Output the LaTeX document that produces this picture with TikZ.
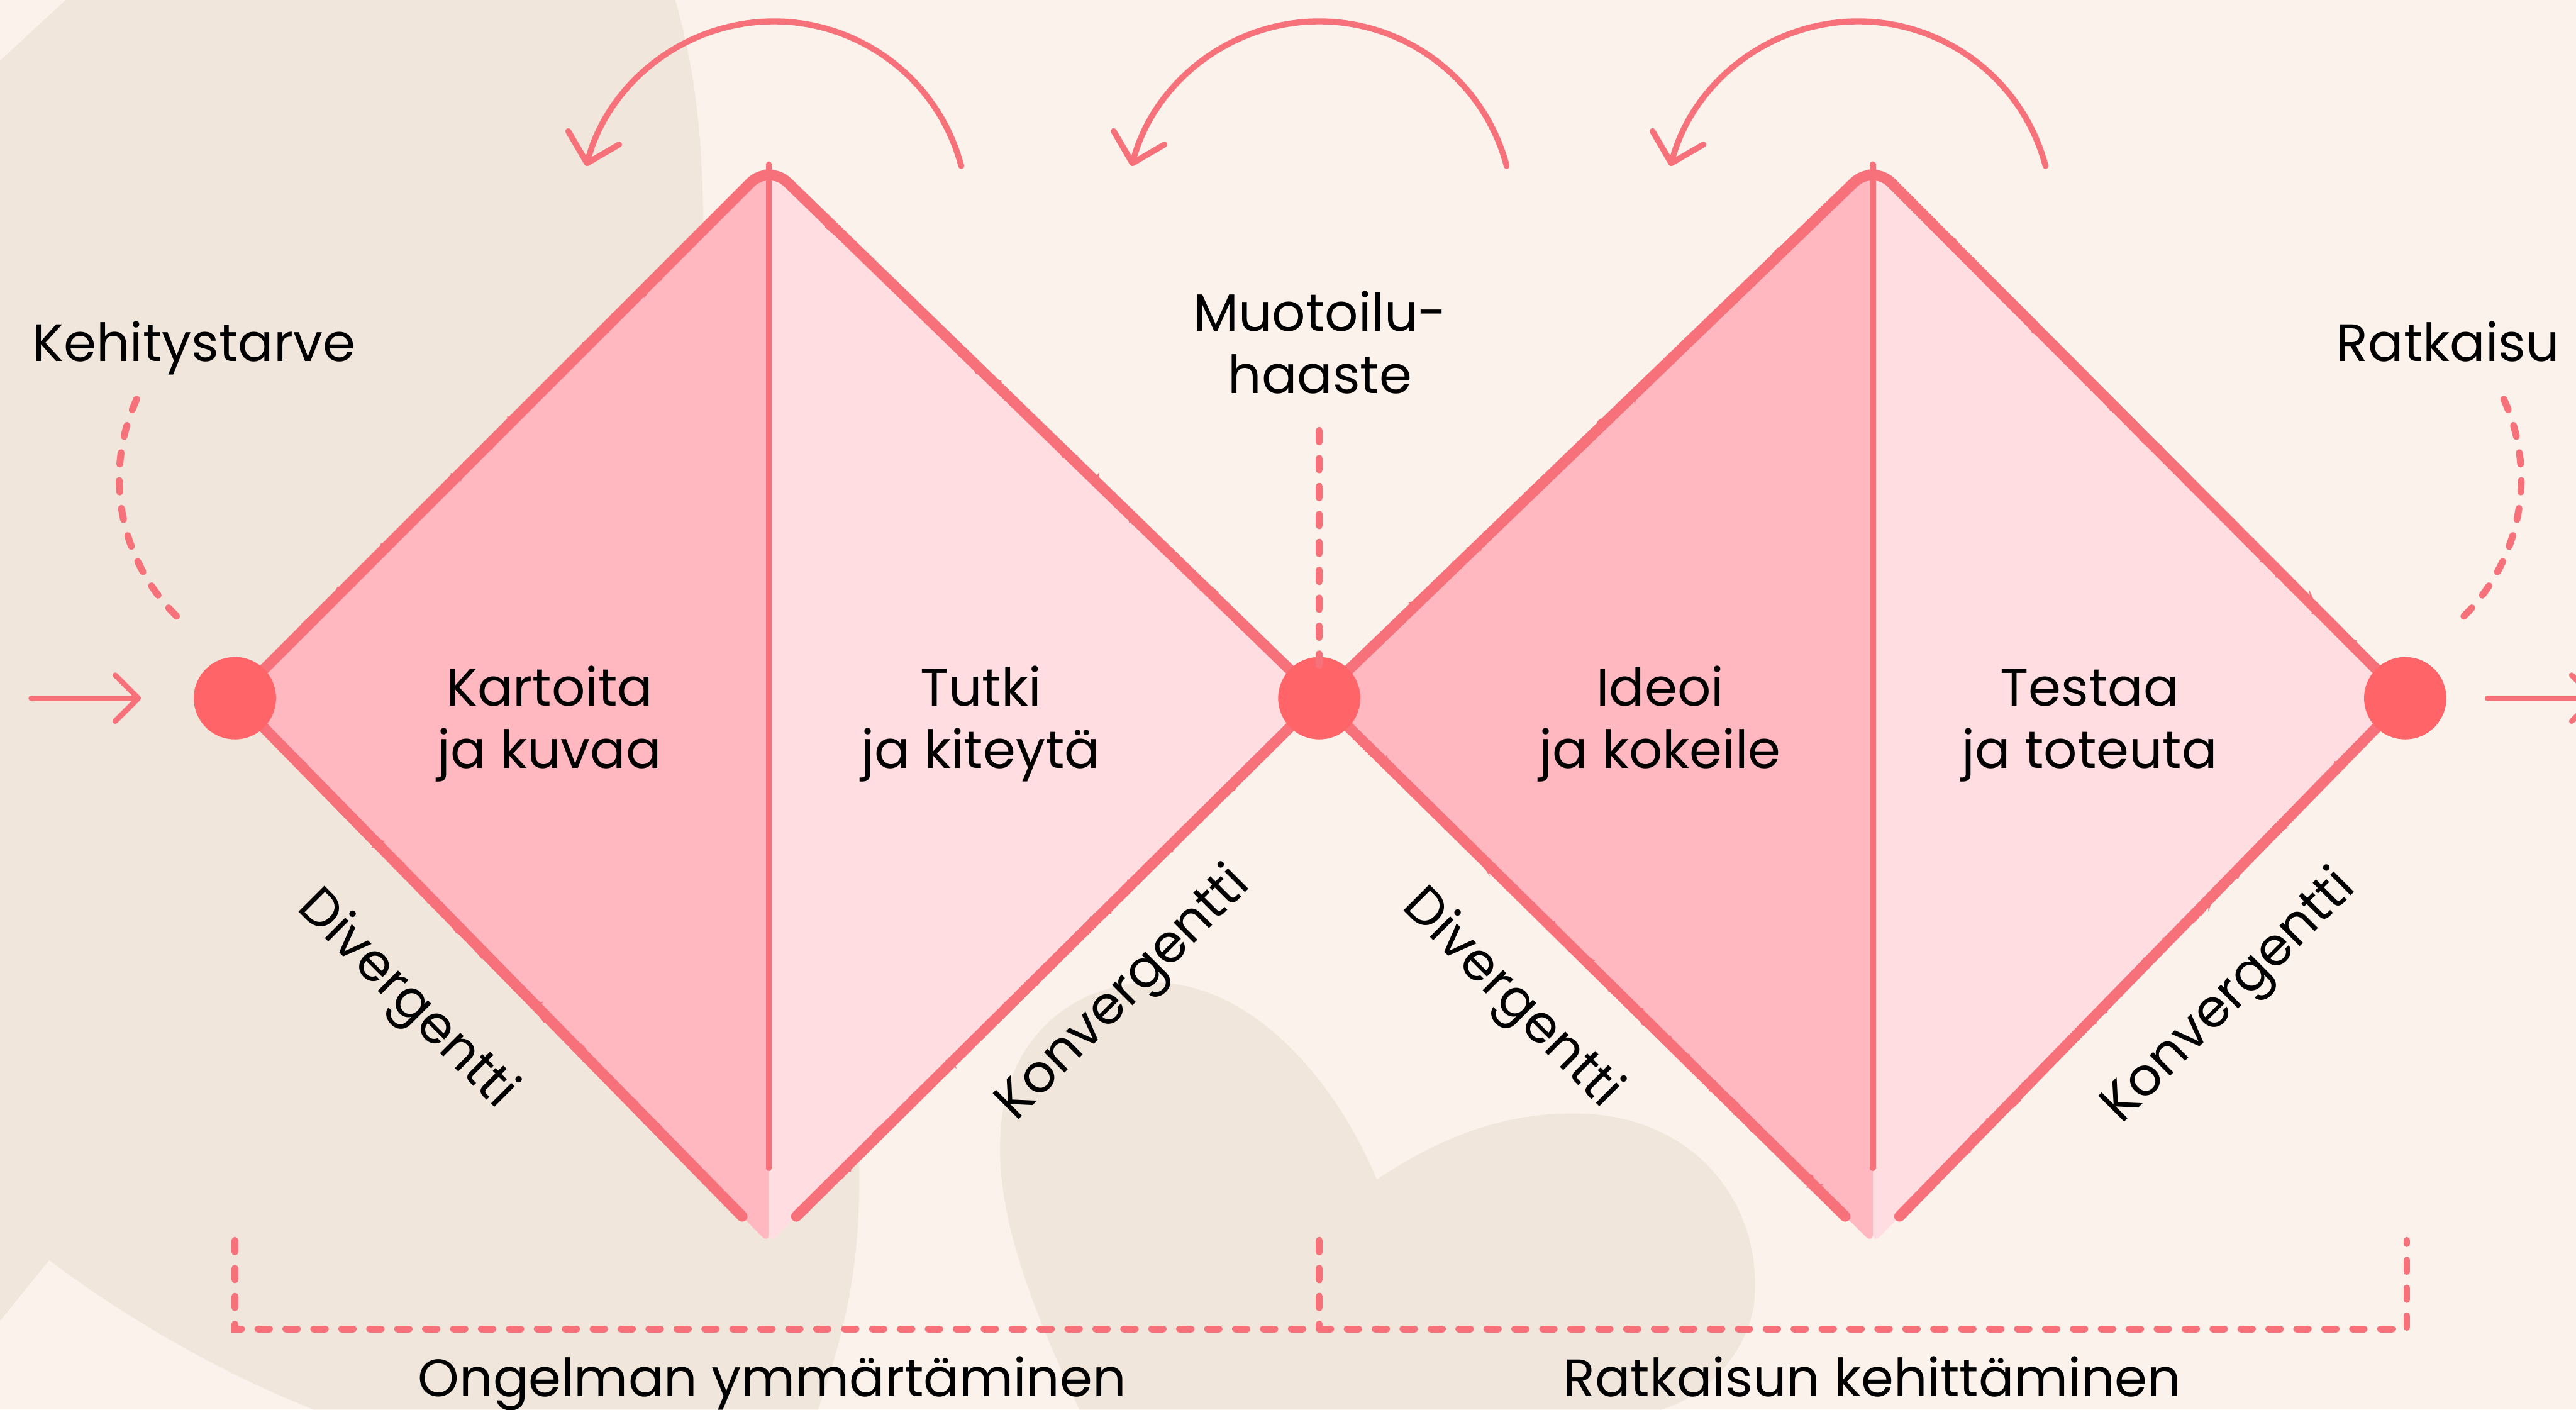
\documentclass[tikz,border=0pt]{standalone}
\usepackage{fontspec}
\setmainfont{Poppins}
\usetikzlibrary{arrows.meta,decorations.pathmorphing,calc}

\definecolor{cream}{HTML}{FCF2EC}
\definecolor{sand}{HTML}{F0E6DB}
\definecolor{rosedeep}{HTML}{FFB7C0}
\definecolor{roselight}{HTML}{FFDDE1}
\definecolor{coral}{HTML}{F7717A}
\definecolor{dotred}{HTML}{FF6468}

\tikzset{
  label/.style={font=\fontsize{32}{37.8}\selectfont, inner sep=0pt, text=black},
  twoline/.style={label, align=center},
  edgeline/.style={draw=coral, line width=6.5pt, line cap=round, line join=round},
  brush/.style={draw=coral, line width=1.3pt, decorate,
    decoration={random steps, segment length=4pt, amplitude=3.2pt}},
  divider/.style={draw=coral, line width=3.6pt, line cap=round},
  hub/.style={circle, fill=dotred, minimum size=50pt, inner sep=0pt},
  turnarrow/.style={draw=coral, line width=3.6pt, line cap=round,
    -{Straight Barb[length=16pt, width=32pt, round]}},
  flow/.style={draw=coral, line width=3.3pt, line cap=round,
    -{Straight Barb[length=14pt, width=28pt, round]}},
  dashline/.style={draw=coral, line width=4.2pt, line cap=round, dash pattern=on 7pt off 10pt},
}

\begin{document}
\begin{tikzpicture}[x=1pt, y=-1pt]
\pgfmathsetseed{42}
\useasboundingbox (0,0) rectangle (1568,858);
\clip (0,0) rectangle (1568,858);

% background and soft blobs
\fill[cream] (0,0) rectangle (1568,858);
\fill[sand] (40,0) -- (411,0) .. controls (424,45) and (428,90) .. (428,140)
  .. controls (430,400) and (526,560) .. (523,725)
  .. controls (522,790) and (507,830) .. (498,858) -- (191,858)
  .. controls (120,830) and (60,790) .. (30,767) -- (0,804) -- (0,37) -- cycle;
\fill[sand] (657,858) .. controls (625,790) and (606,735) .. (609,690)
  .. controls (612,630) and (655,598) .. (702,598)
  .. controls (760,598) and (812,655) .. (838,718)
  .. controls (880,690) and (920,676) .. (966,678)
  .. controls (1035,682) and (1072,735) .. (1068,790)
  .. controls (1066,820) and (1040,850) .. (1011,858) -- cycle;

% hubs (the start, the design challenge and the solution)
\node[hub] (start) at (143,425) {};
\node[hub] (mid) at (803,425) {};
\node[hub] (goal) at (1464,425) {};

\coordinate (t1) at (468,100);
\coordinate (b1) at (468,757);
\coordinate (t2) at (1140,100);
\coordinate (b2) at (1140,757);

% diamond fills
\fill[rosedeep, rounded corners=6pt] (start.center) -- (t1) -- (b1) -- cycle;
\fill[roselight, rounded corners=6pt] (t1) -- (mid.center) -- (b1) -- cycle;
\fill[rosedeep, rounded corners=6pt] (mid.center) -- (t2) -- (b2) -- cycle;
\fill[roselight, rounded corners=6pt] (t2) -- (goal.center) -- (b2) -- cycle;

% dividers
\draw[divider] (t1) -- ($(t1)!0.93!(b1)$);
\draw[divider] (t2) -- ($(t2)!0.93!(b2)$);

% diamond outlines
\draw[edgeline, rounded corners=16pt] (start.center) -- (t1) -- (mid.center);
\draw[edgeline] (start.center) -- ($(start.center)!0.95!(b1)$);
\draw[edgeline] (mid.center) -- ($(mid.center)!0.95!(b1)$);
\draw[edgeline, rounded corners=16pt] (mid.center) -- (t2) -- (goal.center);
\draw[edgeline] (mid.center) -- ($(mid.center)!0.95!(b2)$);
\draw[edgeline] (goal.center) -- ($(goal.center)!0.95!(b2)$);
\foreach \a/\b in {start/t1, t1/mid, start/b1, mid/b1, mid/t2, t2/goal, mid/b2, goal/b2}
  \draw[brush] ($(\a)!0.1!(\b)$) -- ($(\a)!0.9!(\b)$);

% hubs on top of the outlines
\node[hub] at (start) {};
\node[hub] at (mid) {};
\node[hub] at (goal) {};

% entry and exit arrows
\coordinate (inflow) at (19,425);
\coordinate (outflow) at (1581,425);
\draw[flow] (inflow) -- ([xshift=-32pt]start.west);
\draw[flow] ([xshift=25pt]goal.east) -- (outflow);

% iteration arcs
\draw[turnarrow] (585.1,101.1) arc[start angle=-14.7, end angle=-165.3, radius=118];
\draw[turnarrow] (917.1,101.1) arc[start angle=-14.7, end angle=-165.3, radius=118];
\draw[turnarrow] (1245.1,101.1) arc[start angle=-14.7, end angle=-165.3, radius=118];

% labels
\node[label, anchor=base] (need) at (118,220) {Kehitystarve};
\node[label, anchor=base] (solution) at (1490,220) {Ratkaisu};
\node[twoline] (challenge) at (803.5,212.9) {\strut Muotoilu-\\\strut haaste};
\node[twoline] (map) at (334.5,441) {\strut Kartoita\\\strut ja kuvaa};
\node[twoline] (study) at (597,441) {\strut Tutki\\\strut ja kiteytä};
\node[twoline] (ideate) at (1010.5,441) {\strut Ideoi\\\strut ja kokeile};
\node[twoline] (test) at (1272,441) {\strut Testaa\\\strut ja toteuta};
\node[label, rotate=-45] (div1) at (247,609) {Divergentti};
\node[label, rotate=45] (conv1) at (684.6,605.7) {Konvergentti};
\node[label, rotate=-45] (div2) at (919.5,608.5) {Divergentti};
\node[label, rotate=45] (conv2) at (1357.5,607.5) {Konvergentti};
\node[label, anchor=base] (phase1) at (470,850) {Ongelman ymmärtäminen};
\node[label, anchor=base] (phase2) at (1139.6,850) {Ratkaisun kehittäminen};

% dashed pointers and phase bracket
\draw[dashline] (83.2,243) arc[start angle=204.6, end angle=130.3, radius=117];
\draw[dashline] (1524,243) arc[start angle=-24.6, end angle=49.1, radius=117];
\draw[dashline] (803,262) -- ([yshift=-13pt]mid.north);
\draw[dashline] (143,755) -- (143,809) -- (1465,809) -- (1465,755);
\draw[dashline] (803,755) -- (803,809);
\end{tikzpicture}
\end{document}
